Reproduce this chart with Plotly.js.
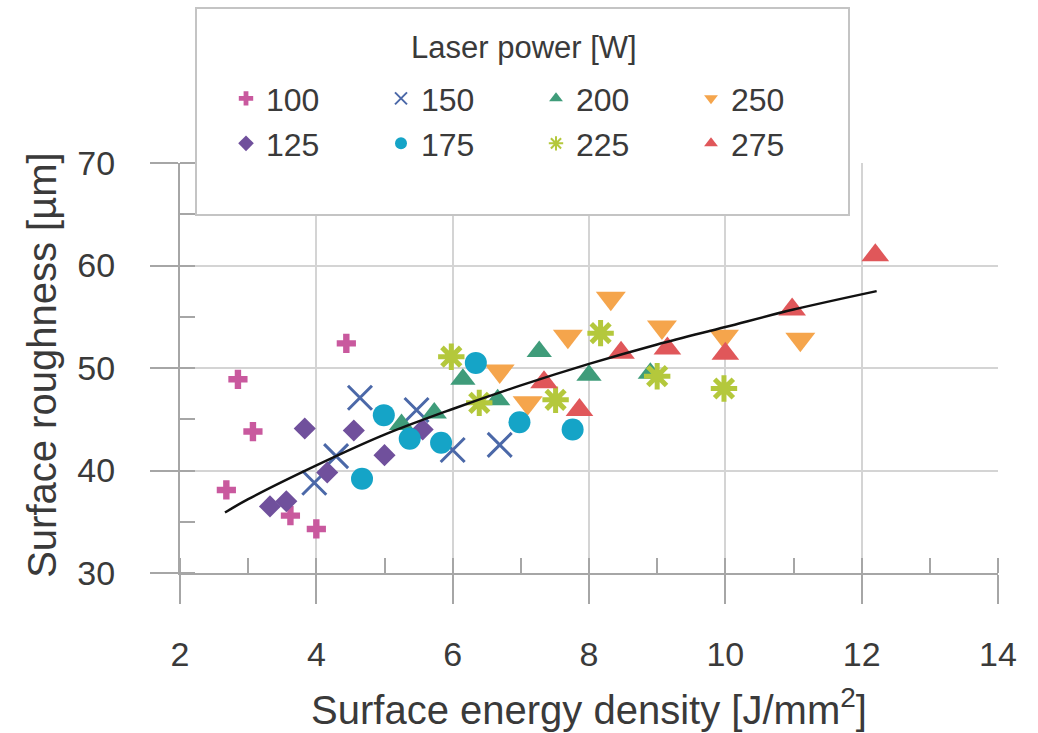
<!DOCTYPE html>
<html>
<head>
<meta charset="utf-8">
<script src="https://cdn.plot.ly/plotly-3.0.1.min.js"></script>
<style>html,body{margin:0;padding:0;background:#fff;}#chart{width:1038px;height:733px;}</style>
</head>
<body>
<div id="chart"></div>
<script>
// ---- data ----
const powers = ["100", "125", "150", "175", "200", "225", "250", "275"];

const x100 = [2.68, 2.85, 3.07, 3.62, 4.00, 4.44];
const y100 = [38.1, 48.9, 43.8, 35.6, 34.3, 52.4];

const x125 = [3.32, 3.56, 3.83, 4.16, 4.55, 5.00, 5.56];
const y125 = [36.5, 37.0, 44.1, 39.8, 43.9, 41.5, 44.0];

const x150 = [3.97, 4.29, 4.64, 5.47, 6.00, 6.69];
const y150 = [38.8, 41.4, 47.1, 45.9, 42.0, 42.5];

const x175 = [4.67, 4.99, 5.37, 5.83, 6.34, 6.98, 7.76];
const y175 = [39.2, 45.4, 43.1, 42.7, 50.5, 44.7, 44.0];

const x200 = [5.25, 5.73, 6.15, 6.66, 7.27, 8.00, 8.90];
const y200 = [44.5, 45.6, 48.9, 46.9, 51.6, 49.3, 49.5];

const x225 = [5.98, 6.39, 7.51, 8.17, 9.00, 9.98];
const y225 = [51.1, 46.6, 46.9, 53.4, 49.2, 48.0];

const x250 = [6.69, 7.10, 7.69, 8.32, 9.07, 9.98, 11.10];
const y250 = [49.7, 46.6, 53.1, 56.8, 54.0, 53.1, 52.8];

const x275 = [7.34, 7.86, 8.47, 9.15, 10.00, 10.98, 12.20];
const y275 = [48.6, 45.9, 51.5, 51.9, 51.4, 55.7, 61.0];

// trend line
const trendX = [2.66, 3, 4, 5, 6, 7, 8, 9, 10, 11, 12.22];
const trendY = [35.9, 37.2, 40.5, 43.5, 46.0, 48.3, 50.4, 52.3, 54.0, 55.7, 57.5];

const xTicks = [2, 4, 6, 8, 10, 12, 14];
const yTicks = [30, 40, 50, 60, 70];

const legendTitle = "Laser power [W]";
const xTitle = "Surface energy density [J/mm<sup>2</sup>]";
const yTitle = "Surface roughness [µm]";

// ---- styles ----
const FONT = "Liberation Sans, Arial, sans-serif";
const TXT = "#3a3a3a";
// legend rows: row 1 = 100,150,200,250 ; row 2 = 125,175,225,275
const series = [
  {name: powers[0], x: x100, y: y100, symbol: "cross", color: "#c9599e", size: 16, leg: "legend"},
  {name: powers[2], x: x150, y: y150, symbol: "x-thin-open", color: "#4b68a8", size: 24, leg: "legend", lw: 3},
  {name: powers[4], x: x200, y: y200, symbol: "triangle-up", color: "#3f9c7a", size: 22, leg: "legend"},
  {name: powers[6], x: x250, y: y250, symbol: "triangle-down", color: "#f5a54c", size: 26, leg: "legend"},
  {name: powers[1], x: x125, y: y125, symbol: "diamond", color: "#70509c", size: 17, leg: "legend2"},
  {name: powers[3], x: x175, y: y175, symbol: "circle", color: "#15a4c7", size: 22, leg: "legend2"},
  {name: powers[5], x: x225, y: y225, symbol: "asterisk-open", color: "#b4c83c", size: 22, leg: "legend2", lw: 5},
  {name: powers[7], x: x275, y: y275, symbol: "triangle-up", color: "#e0575a", size: 24, leg: "legend2"}
];

const traces = series.map(s => ({
  type: "scatter", mode: "markers", name: s.name, x: s.x, y: s.y,
  legend: s.leg,
  marker: {
    symbol: s.symbol, size: s.size, color: s.color,
    line: s.lw ? {width: s.lw, color: s.color} : {width: 0}
  },
  hoverinfo: "x+y+name"
}));

traces.push({
  type: "scatter", mode: "lines", x: trendX, y: trendY, showlegend: false,
  line: {color: "#111111", width: 2.5, shape: "spline"}, hoverinfo: "skip"
});

const AX = "#a6a6a6";
const PX = v => (v - 180) / 818;        // pixel -> paper x
const PY = v => (573.3 - v) / 410.3;    // pixel -> paper y
const legendCommon = {
  orientation: "h", xanchor: "left", yanchor: "top",
  bgcolor: "rgba(0,0,0,0)", borderwidth: 0,
  entrywidth: 110, entrywidthmode: "pixels",
  itemsizing: "constant",
  font: {size: 32, family: FONT, color: TXT}
};
const layout = {
  width: 1038, height: 733,
  margin: {l: 180, r: 40, t: 163, b: 160},
  paper_bgcolor: "#ffffff", plot_bgcolor: "#ffffff",
  font: {family: FONT, color: TXT},
  showlegend: true,
  xaxis: {
    range: [2, 14], tickvals: xTicks, ticktext: xTicks.map(String),
    showgrid: true, gridcolor: "#d4d4d4", gridwidth: 2, zeroline: false,
    showline: true, linecolor: AX, linewidth: 2,
    ticks: "outside", ticklen: 29, tickwidth: 2, tickcolor: AX,
    ticklabelstandoff: 21,
    minor: {dtick: 1, tick0: 2, ticks: "inside", ticklen: 15, tickwidth: 2, tickcolor: AX, showgrid: false},
    tickfont: {size: 34, family: FONT, color: TXT},
    title: {text: xTitle, font: {size: 40, family: FONT, color: TXT}, standoff: 24},
    automargin: false
  },
  yaxis: {
    range: [30, 70], tickvals: yTicks, ticktext: yTicks.map(String),
    showgrid: true, gridcolor: "#d4d4d4", gridwidth: 2, zeroline: false,
    showline: true, linecolor: AX, linewidth: 2,
    ticks: "outside", ticklen: 28, tickwidth: 2, tickcolor: AX,
    ticklabelstandoff: 28,
    minor: {dtick: 5, tick0: 30, ticks: "inside", ticklen: 15, tickwidth: 2, tickcolor: AX, showgrid: false},
    tickfont: {size: 34, family: FONT, color: TXT},
    automargin: false
  },
  legend: Object.assign({x: PX(226), y: PY(71)}, legendCommon),
  legend2: Object.assign({x: PX(226), y: PY(116)}, legendCommon),
  annotations: [
    {
      text: legendTitle, xref: "paper", yref: "paper",
      x: PX(524), y: PY(47), xanchor: "center", yanchor: "middle",
      showarrow: false, font: {size: 31, family: FONT, color: TXT}
    },
    {
      text: yTitle, xref: "paper", yref: "paper", textangle: -90,
      x: PX(42), y: PY(366), xanchor: "center", yanchor: "middle",
      showarrow: false, font: {size: 40, family: FONT, color: TXT}
    }
  ],
  shapes: [{
    type: "rect", xref: "paper", yref: "paper",
    x0: PX(196), x1: PX(849), y0: PY(215), y1: PY(8),
    fillcolor: "#ffffff", line: {color: "#c4c4c4", width: 2}, layer: "above"
  }]
};

Plotly.newPlot("chart", traces, layout, {displayModeBar: false, staticPlot: true});
</script>
</body>
</html>
